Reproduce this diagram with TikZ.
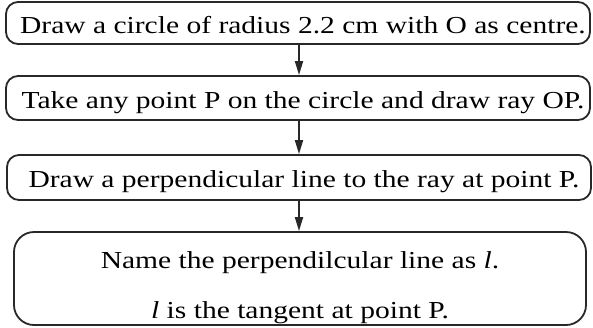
\documentclass[tikz,border=0pt]{standalone}
\usepackage{fontspec}
\setmainfont[FakeStretch=1.21]{Liberation Serif}
\usetikzlibrary{arrows.meta}
\definecolor{frame}{RGB}{40,40,40}
\tikzset{
  fshape/.style={draw=frame,line width=0.9pt,inner sep=0pt,font=\fontsize{12.2}{14}\selectfont},
  fbox/.style={fshape,rounded corners=6pt,minimum width=292pt,minimum height=21pt,
    text height=12pt,text depth=2pt,execute at begin node=\hspace*{5pt}},
  fbig/.style={fshape,rounded corners=10pt,minimum width=286pt,minimum height=46.5pt,align=center},
  farrow/.style={frame,line width=0.9pt,-{Triangle[length=7pt,width=4pt]}},
}
\begin{document}
\begin{tikzpicture}[x=0.5pt,y=-0.5pt]
  \useasboundingbox (0,0) rectangle (593,327);
  \node[fbox] (circ) at (298,23)    {Draw a circle of radius 2.2 cm with O as centre.};
  \node[fbox,minimum height=22pt] (ray) at (298,98) {Take any point P on the circle and draw ray OP.};
  \node[fbox,minimum height=22.5pt] (perp) at (299,177.5) {Draw a perpendicular line to the ray at point P.};
  \node[fbig] (tang) at (300,278.5) {\rule{0pt}{17.5pt}Name the perpendilcular line as \textit{l}.\\[11pt]
    \textit{l} is the tangent at point P.};
  \foreach \a/\b in {circ/ray,ray/perp,perp/tang}
    \draw[farrow] (\a.south -| 299,0) -- (\b.north -| 299,0);
\end{tikzpicture}
\end{document}
